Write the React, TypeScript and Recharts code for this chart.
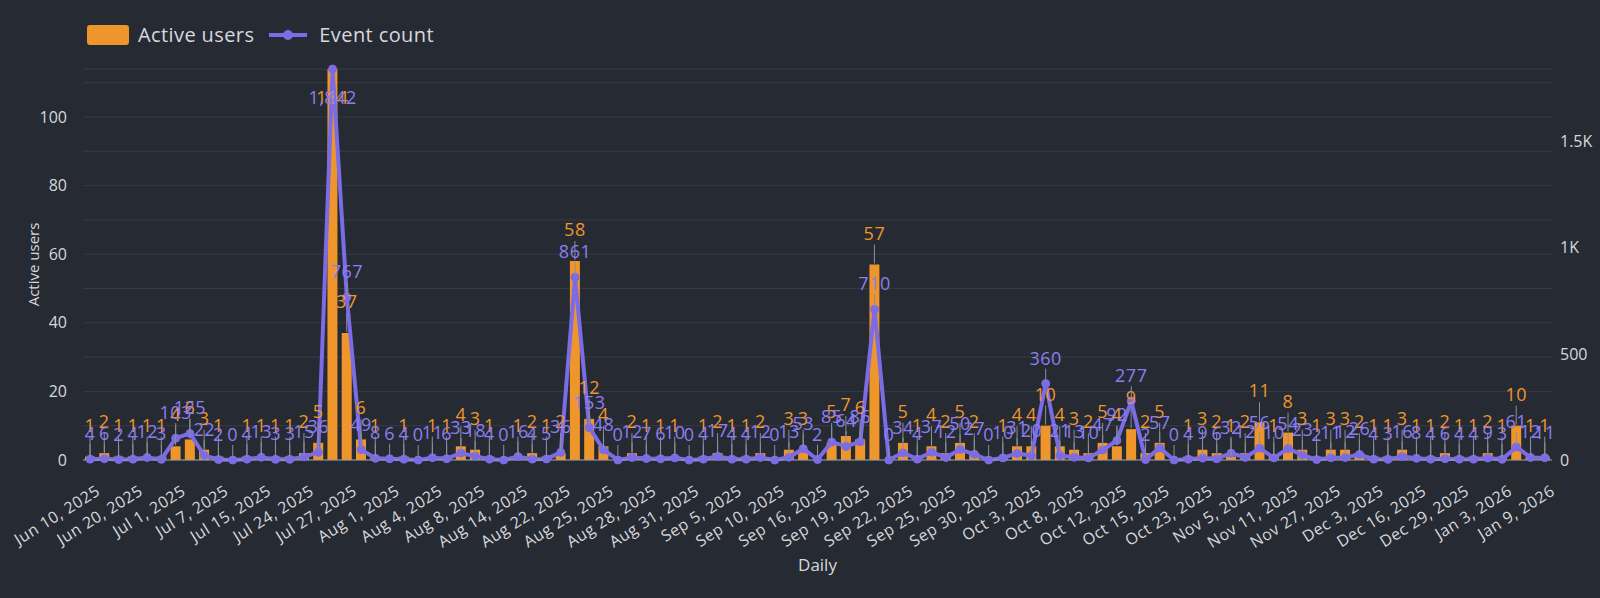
import React from 'react';
import { ComposedChart, Bar, Line, XAxis, YAxis, CartesianGrid } from 'recharts';

// daily categories (only every 3rd date shows as a tick)
const dates = [
  'Jun 10, 2025', 'Jun 13, 2025', 'Jun 17, 2025', 'Jun 20, 2025', 'Jun 24, 2025', 'Jun 27, 2025',
  'Jul 1, 2025', 'Jul 3, 2025', 'Jul 5, 2025', 'Jul 7, 2025', 'Jul 10, 2025', 'Jul 12, 2025',
  'Jul 15, 2025', 'Jul 18, 2025', 'Jul 21, 2025', 'Jul 24, 2025', 'Jul 25, 2025', 'Jul 26, 2025',
  'Jul 27, 2025', 'Jul 28, 2025', 'Jul 30, 2025', 'Aug 1, 2025', 'Aug 2, 2025', 'Aug 3, 2025',
  'Aug 4, 2025', 'Aug 5, 2025', 'Aug 6, 2025', 'Aug 8, 2025', 'Aug 10, 2025', 'Aug 12, 2025',
  'Aug 14, 2025', 'Aug 16, 2025', 'Aug 19, 2025', 'Aug 22, 2025', 'Aug 23, 2025', 'Aug 24, 2025',
  'Aug 25, 2025', 'Aug 26, 2025', 'Aug 27, 2025', 'Aug 28, 2025', 'Aug 29, 2025', 'Aug 30, 2025',
  'Aug 31, 2025', 'Sep 2, 2025', 'Sep 3, 2025', 'Sep 5, 2025', 'Sep 7, 2025', 'Sep 8, 2025',
  'Sep 10, 2025', 'Sep 12, 2025', 'Sep 14, 2025', 'Sep 16, 2025', 'Sep 17, 2025', 'Sep 18, 2025',
  'Sep 19, 2025', 'Sep 20, 2025', 'Sep 21, 2025', 'Sep 22, 2025', 'Sep 23, 2025', 'Sep 24, 2025',
  'Sep 25, 2025', 'Sep 26, 2025', 'Sep 28, 2025', 'Sep 30, 2025', 'Oct 1, 2025', 'Oct 2, 2025',
  'Oct 3, 2025', 'Oct 4, 2025', 'Oct 6, 2025', 'Oct 8, 2025', 'Oct 9, 2025', 'Oct 10, 2025',
  'Oct 12, 2025', 'Oct 13, 2025', 'Oct 14, 2025', 'Oct 15, 2025', 'Oct 18, 2025', 'Oct 20, 2025',
  'Oct 23, 2025', 'Oct 27, 2025', 'Nov 1, 2025', 'Nov 5, 2025', 'Nov 7, 2025', 'Nov 9, 2025',
  'Nov 11, 2025', 'Nov 17, 2025', 'Nov 22, 2025', 'Nov 27, 2025', 'Nov 29, 2025', 'Dec 1, 2025',
  'Dec 3, 2025', 'Dec 8, 2025', 'Dec 12, 2025', 'Dec 16, 2025', 'Dec 20, 2025', 'Dec 24, 2025',
  'Dec 29, 2025', 'Dec 31, 2025', 'Jan 1, 2026', 'Jan 3, 2026', 'Jan 5, 2026', 'Jan 7, 2026',
  'Jan 9, 2026',
];

const activeUsers = [
  1, 2, 1, 1, 1, 1, 4, 6, 3, 1,
  0, 1, 1, 1, 1, 2, 5, 114, 37, 6,
  1, 0, 1, 0, 1, 1, 4, 3, 1, 0,
  1, 2, 1, 2, 58, 12, 4, 0, 2, 1,
  1, 1, 0, 1, 2, 1, 1, 2, 0, 3,
  3, 0, 5, 7, 6, 57, 0, 5, 1, 4,
  2, 5, 2, 0, 1, 4, 4, 10, 4, 3,
  2, 5, 4, 9, 2, 5, 0, 1, 3, 2,
  1, 2, 11, 1, 8, 3, 1, 3, 3, 2,
  1, 1, 3, 1, 1, 2, 1, 1, 2, 1,
  10, 1, 1,
];

const eventCount = [
  4, 6, 2, 4, 12, 3, 103, 125, 22, 2,
  0, 4, 13, 3, 3, 15, 36, 1842, 767, 49,
  8, 6, 4, 0, 11, 6, 33, 18, 4, 0,
  16, 4, 5, 36, 861, 153, 48, 0, 12, 7,
  6, 10, 0, 4, 17, 4, 4, 12, 0, 13,
  53, 2, 85, 64, 86, 710, 0, 34, 4, 37,
  12, 50, 27, 0, 10, 31, 20, 360, 21, 13,
  10, 47, 92, 277, 2, 57, 0, 4, 9, 6,
  32, 12, 56, 10, 54, 23, 2, 11, 12, 26,
  4, 3, 16, 8, 4, 6, 4, 4, 9, 3,
  61, 12, 11,
];

const usersTicks = [0, 10, 20, 30, 40, 50, 60, 70, 80, 90, 100, 110];
const eventTicks = [0, 500, 1000, 1500];

const BG = '#262a33';
const ORANGE = '#ee962b';
const PURPLE = '#7b6ce6';
const PURPLE_TEXT = '#8b7ff0';
const TEXT = '#d6d8dd';
const GRID = '#363b46';
const LEADER = '#8a8f99';
const FONT = '"Open Sans", sans-serif';

const PLOT_TOP = 69;

const data = dates.map((d, i) => ({ date: d, users: activeUsers[i], events: eventCount[i] }));
const usersMax = Math.max(...activeUsers);
const eventsMax = Math.max(...eventCount);

const BarLabel = (props: any) => {
  const { x, y, width, value } = props;
  const cx = x + width / 2;
  const below = y - 32 < PLOT_TOP + 10;
  const ly = below ? y + 28 : y - 32;
  return (
    <g>
      {!below && <line x1={cx} x2={cx} y1={ly + 12} y2={y - 1} stroke={LEADER} strokeWidth={1} />}
      <text x={cx} y={ly} textAnchor="middle" dominantBaseline="central" fill={ORANGE}
        fontSize={18} letterSpacing={0.5} fontFamily={FONT}>{value}</text>
    </g>
  );
};

const LineLabel = (props: any) => {
  const { x, y, value } = props;
  const below = y - 28 < PLOT_TOP + 10;
  const ly = below ? y + 28 : y - 26;
  return (
    <g>
      {!below && <line x1={x} x2={x} y1={ly + 11} y2={y - 2} stroke={LEADER} strokeWidth={1} />}
      <text x={x} y={ly} textAnchor="middle" dominantBaseline="central" fill={PURPLE_TEXT}
        fontSize={18} letterSpacing={0.5} fontFamily={FONT}>{Number(value).toLocaleString('en-US')}</text>
    </g>
  );
};

const XTick = (props: any) => {
  const { x, payload } = props;
  return (
    <g transform={`translate(${x + 11},494)`}>
      <text x={0} y={0} textAnchor="end" transform="rotate(-32)" fill={TEXT}
        fontSize={16} letterSpacing={0.5} fontFamily={FONT}>{payload.value}</text>
    </g>
  );
};

const AxisTitle = (props: any) => {
  const { viewBox, value, dx } = props;
  const cx = viewBox.x + dx;
  const cy = viewBox.y + viewBox.height / 2;
  return (
    <text x={cx} y={cy} transform={`rotate(-90 ${cx} ${cy})`} textAnchor="middle" dominantBaseline="central"
      fill={TEXT} fontSize={15} fontFamily={FONT}>{value}</text>
  );
};

const fmtEvents = (v: number) => (v >= 1000 ? `${v / 1000}K` : `${v}`);

const App: React.FC = () => {
  return (
    <div style={{ position: 'absolute', left: 0, top: 0, width: 1600, height: 598, background: BG, fontFamily: FONT }}>
      <div style={{ position: 'absolute', left: 87, top: 21, display: 'flex', alignItems: 'center', color: TEXT, fontSize: 20, letterSpacing: 0.4 }}>
        <span style={{ width: 42, height: 20, background: ORANGE, borderRadius: 3, display: 'inline-block' }} />
        <span style={{ marginLeft: 9 }}>Active users</span>
        <svg width={38} height={20} style={{ marginLeft: 15 }}>
          <line x1={0} x2={38} y1={10} y2={10} stroke={PURPLE} strokeWidth={4} />
          <circle cx={19} cy={10} r={5} fill={PURPLE} />
        </svg>
        <span style={{ marginLeft: 12 }}>Event count</span>
      </div>
      <ComposedChart width={1600} height={598} data={data} margin={{ top: PLOT_TOP, right: 0, bottom: 0, left: 0 }}>
        <CartesianGrid yAxisId="left" vertical={false} stroke={GRID} horizontalValues={[...usersTicks, usersMax]} />
        <XAxis
          dataKey="date"
          interval={2}
          height={138}
          tick={<XTick />}
          tickLine={false}
          axisLine={{ stroke: '#9aa0a9' }}
          label={{ value: 'Daily', position: 'insideBottom', offset: 27, fill: TEXT, fontSize: 17, fontFamily: FONT }}
        />
        <YAxis
          yAxisId="left"
          width={83}
          domain={[0, usersMax]}
          ticks={usersTicks}
          tickFormatter={(v: number) => (v % 20 === 0 ? `${v}` : '')}
          axisLine={false}
          tickLine={false}
          tickMargin={10}
          tick={{ fill: TEXT, fontSize: 16, fontFamily: FONT }}
          label={<AxisTitle value="Active users" dx={33} />}
        />
        <YAxis
          yAxisId="right"
          orientation="right"
          width={48}
          domain={[0, eventsMax]}
          ticks={eventTicks}
          tickFormatter={fmtEvents}
          axisLine={false}
          tickLine={false}
          tick={{ fill: TEXT, fontSize: 16, fontFamily: FONT }}
          label={<AxisTitle value="Event count" dx={53} />}
        />
        <Bar yAxisId="left" dataKey="users" name="Active users" fill={ORANGE} barSize={10}
          isAnimationActive={false} label={<BarLabel />} />
        <Line yAxisId="right" dataKey="events" name="Event count" type="linear" stroke={PURPLE} strokeWidth={4}
          dot={{ r: 4, fill: PURPLE, stroke: PURPLE, strokeWidth: 1 }} activeDot={false}
          isAnimationActive={false} label={<LineLabel />} />
      </ComposedChart>
    </div>
  );
};

export default App;
